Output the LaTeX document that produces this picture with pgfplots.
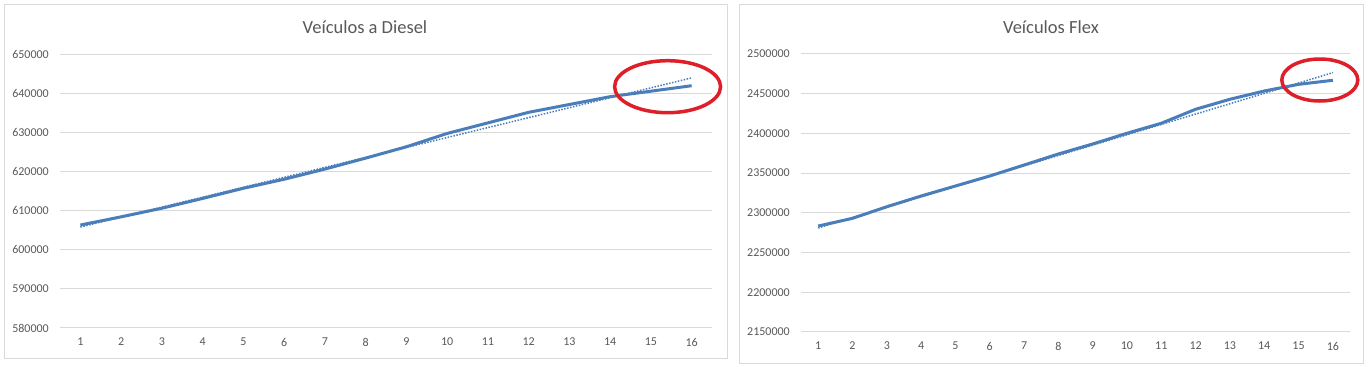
\documentclass[border=0pt]{standalone}
\usepackage{pgfplots}
\pgfplotsset{compat=1.18}
\usepackage{fontspec}
\setmainfont{Carlito}
\definecolor{lineblue}{HTML}{4A7EBB}
\definecolor{gridgray}{HTML}{D9D9D9}
\definecolor{txtgray}{HTML}{595959}
\definecolor{frame}{HTML}{D9D9D9}
\definecolor{ringred}{RGB}{222,30,40}
\begin{document}
\begin{tikzpicture}
\path[use as bounding box] (0,0) rectangle (1368bp,367bp);
\fill[white] (0,0) rectangle (1368bp,367bp);
\draw[frame, line width=1bp] (4bp,8bp) rectangle (727bp,362bp);
\draw[frame, line width=1bp] (739bp,3bp) rectangle (1363bp,362bp);
\node[txtgray, font=\fontsize{18.5bp}{21bp}\selectfont] at (365bp,340bp) {Veículos a Diesel};
\node[txtgray, font=\fontsize{18.5bp}{21bp}\selectfont] at (1051bp,340bp) {Veículos Flex};
\pgfplotsset{
  mystyle/.style={
    scale only axis,
    anchor=south west,
    xmin=0.5, xmax=16.5,
    xtick={1,...,16},
    axis line style={draw=none},
    major tick length=0pt,
    ymajorgrids,
    grid style={gridgray, line width=1bp},
    scaled ticks=false,
    /pgf/number format/.cd, fixed, 1000 sep={}, assume math mode=true,
    /pgfplots/.cd,
    tick label style={txtgray, font=\fontsize{12bp}{14bp}\selectfont, inner sep=0pt},
    yticklabel shift=11bp,
    xticklabel shift=10bp,
    clip=false,
  }
}
\begin{axis}[mystyle, at={(60bp,39bp)}, width=652bp, height=274bp,
  ymin=580000, ymax=650000, ytick={580000,590000,...,650000}]
\addplot[lineblue, line width=3bp, line join=round] coordinates {
(1,606300) (2,608400) (3,610600) (4,613100) (5,615700) (6,618000) (7,620600) (8,623400)
(9,626300) (10,629700) (11,632400) (12,635100) (13,637100) (14,639100) (15,640500) (16,641900)};
\addplot[lineblue, line width=1.5bp, dash pattern=on 1.5bp off 1.5bp] coordinates {
(1,605800) (16,643900)};
\draw[ringred, line width=3.5bp] (axis cs:15.41,641650) ellipse [x radius=53bp, y radius=26bp];
\end{axis}
\begin{axis}[mystyle, at={(801bp,35bp)}, width=549bp, height=278bp,
  ymin=2150000, ymax=2500000, ytick={2150000,2200000,...,2500000}]
\addplot[lineblue, line width=3bp, line join=round] coordinates {
(1,2283400) (2,2293100) (3,2307700) (4,2321200) (5,2333800) (6,2346400) (7,2360200) (8,2374100)
(9,2386700) (10,2400200) (11,2412800) (12,2430400) (13,2443000) (14,2453400) (15,2461800) (16,2466900)};
\addplot[lineblue, line width=1.5bp, dash pattern=on 1.5bp off 1.5bp] coordinates {
(1,2281000) (16,2476500)};
\draw[ringred, line width=3.5bp] (axis cs:15.62,2467260) ellipse [x radius=38bp, y radius=21bp];
\end{axis}
\end{tikzpicture}
\end{document}
